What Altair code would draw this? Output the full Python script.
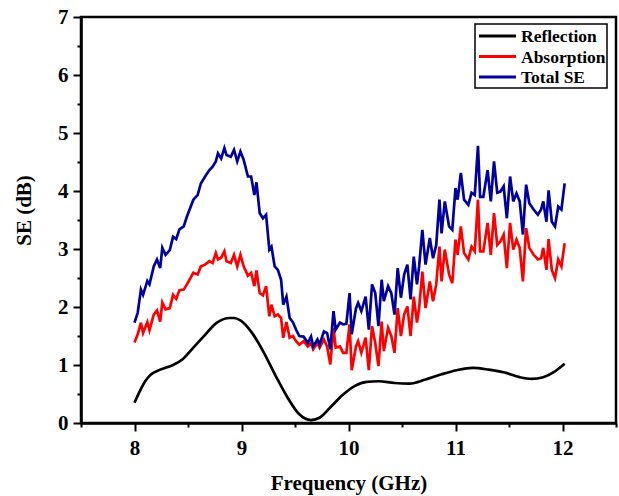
import altair as alt
import pandas as pd

# Frequency points (GHz) shared by the Absorption and Total SE curves
freq = [8.00, 8.03, 8.06, 8.08, 8.12, 8.14, 8.18, 8.21, 8.24, 8.26,
        8.29, 8.33, 8.36, 8.39, 8.42, 8.46, 8.49, 8.55, 8.59, 8.62,
        8.66, 8.70, 8.73, 8.76, 8.78, 8.81, 8.84, 8.86, 8.90, 8.93,
        8.96, 8.99, 9.02, 9.06, 9.09, 9.12, 9.14, 9.17, 9.20, 9.23,
        9.26, 9.28, 9.31, 9.34, 9.37, 9.39, 9.42, 9.45, 9.48, 9.51,
        9.54, 9.58, 9.62, 9.65, 9.67, 9.71, 9.73, 9.77, 9.80, 9.83,
        9.86, 9.88, 9.92, 9.95, 9.98, 10.01, 10.03, 10.07, 10.09, 10.12,
        10.16, 10.19, 10.22, 10.25, 10.28, 10.31, 10.33, 10.37, 10.40, 10.43,
        10.46, 10.49, 10.52, 10.55, 10.58, 10.61, 10.64, 10.66, 10.69, 10.72,
        10.76, 10.79, 10.82, 10.85, 10.87, 10.90, 10.94, 10.97, 11.00, 11.02,
        11.05, 11.08, 11.12, 11.15, 11.18, 11.21, 11.23, 11.26, 11.30, 11.33,
        11.36, 11.39, 11.42, 11.45, 11.48, 11.51, 11.54, 11.57, 11.60, 11.63,
        11.66, 11.69, 11.73, 11.77, 11.80, 11.82, 11.85, 11.87, 11.90, 11.93,
        11.96, 11.99, 12.02]

total_se = [1.73, 1.90, 2.30, 2.21, 2.45, 2.39, 2.70, 2.82, 2.67, 3.02,
            2.90, 2.98, 3.21, 3.17, 3.34, 3.39, 3.56, 3.85, 3.93, 4.13,
            4.25, 4.36, 4.42, 4.51, 4.65, 4.56, 4.74, 4.62, 4.59, 4.71,
            4.51, 4.68, 4.54, 4.25, 4.25, 3.93, 4.15, 3.62, 3.53, 3.59,
            2.99, 3.04, 2.70, 2.64, 2.47, 2.04, 2.18, 1.81, 1.74, 1.61,
            1.50, 1.49, 1.38, 1.49, 1.32, 1.44, 1.35, 1.58, 1.55, 1.27,
            1.93, 1.61, 1.73, 1.70, 1.71, 2.24, 1.53, 1.98, 2.07, 1.93,
            2.18, 1.61, 2.39, 2.24, 1.67, 2.47, 2.10, 2.36, 2.24, 1.87,
            2.67, 2.16, 2.56, 2.73, 2.13, 2.87, 2.39, 2.70, 3.33, 2.73,
            3.19, 2.84, 3.07, 3.85, 3.27, 3.82, 3.39, 3.33, 4.05, 3.85,
            4.31, 3.85, 3.76, 3.97, 3.93, 4.78, 3.90, 3.90, 4.36, 3.82,
            4.51, 3.97, 3.99, 4.08, 3.53, 4.25, 3.82, 3.96, 3.82, 3.25,
            4.11, 3.79, 3.68, 3.59, 3.68, 3.82, 3.47, 4.01, 3.47, 3.39,
            3.73, 3.68, 4.13]

absorption = [1.39, 1.53, 1.73, 1.55, 1.74, 1.60, 1.87, 1.94, 1.75, 2.08,
              1.96, 1.98, 2.21, 2.14, 2.29, 2.30, 2.39, 2.59, 2.56, 2.70,
              2.73, 2.79, 2.76, 2.93, 2.82, 2.85, 2.96, 2.79, 2.76, 2.90,
              2.70, 2.90, 2.70, 2.54, 2.59, 2.36, 2.63, 2.24, 2.20, 2.36,
              1.84, 2.04, 1.84, 1.87, 1.81, 1.47, 1.74, 1.47, 1.50, 1.41,
              1.35, 1.41, 1.32, 1.38, 1.27, 1.38, 1.30, 1.44, 1.32, 1.01,
              1.64, 1.30, 1.32, 1.21, 1.21, 1.70, 0.91, 1.32, 1.41, 1.21,
              1.47, 0.91, 1.67, 1.38, 0.98, 1.75, 1.24, 1.64, 1.50, 1.21,
              1.98, 1.50, 1.87, 2.01, 1.50, 2.18, 1.73, 1.98, 2.61, 1.98,
              2.44, 2.10, 2.39, 3.04, 2.44, 2.99, 2.56, 2.41, 3.16, 2.90,
              3.39, 2.93, 2.82, 3.04, 2.96, 3.85, 2.96, 2.96, 3.45, 2.90,
              3.62, 3.07, 3.13, 3.25, 2.67, 3.45, 2.99, 3.16, 3.02, 2.44,
              3.36, 3.02, 2.90, 2.82, 2.84, 3.02, 2.64, 3.17, 2.64, 2.50,
              2.82, 2.70, 3.10]

# Reflection curve (smooth)
ref_freq = [8.00, 8.05, 8.10, 8.15, 8.24, 8.36, 8.45, 8.55, 8.64, 8.77,
            8.89, 8.93, 8.99, 9.10, 9.21, 9.32, 9.43, 9.54, 9.65, 9.73,
            9.84, 9.95, 10.06, 10.17, 10.28, 10.43, 10.57, 10.72, 10.87, 11.01,
            11.16, 11.31, 11.46, 11.60, 11.71, 11.82, 11.93, 12.02]
reflection = [0.35, 0.55, 0.72, 0.83, 0.92, 1.00, 1.10, 1.30, 1.48, 1.73,
              1.81, 1.81, 1.77, 1.55, 1.21, 0.81, 0.44, 0.15, 0.05, 0.09,
              0.29, 0.49, 0.64, 0.71, 0.72, 0.69, 0.68, 0.75, 0.84, 0.91,
              0.95, 0.92, 0.87, 0.79, 0.76, 0.79, 0.89, 1.02]

series_names = ["Reflection", "Absorption", "Total SE"]
series_colors = ["#000000", "#ff0000", "#00009e"]

x_ticks = [7.5, 8, 8.5, 9, 9.5, 10, 10.5, 11, 11.5, 12, 12.5]
y_ticks = [0, 0.5, 1, 1.5, 2, 2.5, 3, 3.5, 4, 4.5, 5, 5.5, 6, 6.5, 7]

assert len(freq) == len(total_se) == len(absorption)
assert len(ref_freq) == len(reflection)

df_ref = pd.DataFrame({"f": ref_freq, "v": reflection, "s": "Reflection"})
df_abs = pd.DataFrame({"f": freq, "v": absorption, "s": "Absorption"})
df_tot = pd.DataFrame({"f": freq, "v": total_se, "s": "Total SE"})

FONT = "Liberation Serif"
minor_test = "datum.value % 1 !== 0"
label_expr = "datum.value % 1 ? '' : '' + datum.value"

axis_common = dict(
    labelExpr=label_expr,
    tickSize={"condition": {"test": minor_test, "value": 4}, "value": 8},
    grid=False, domainColor="black", domainWidth=2.5, tickColor="black",
    tickWidth=2, labelFont=FONT, labelFontWeight="bold", labelFontSize=21,
    labelColor="black", titleFont=FONT, titleFontWeight="bold", titleFontSize=21,
    titleColor="black",
)

x_enc = alt.X("f:Q", scale=alt.Scale(domain=[7.5, 12.5], nice=False, zero=False),
              axis=alt.Axis(values=x_ticks, title="Frequency (GHz)",
                            labelPadding=6, titlePadding=14, **axis_common))
y_enc = alt.Y("v:Q", scale=alt.Scale(domain=[0, 7], nice=False),
              axis=alt.Axis(values=y_ticks, title="SE (dB)", titleY=193,
                            labelPadding=5, titlePadding=23, **axis_common))
color_enc = alt.Color("s:N", scale=alt.Scale(domain=series_names, range=series_colors), legend=None)

def line(df, smooth=False):
    kw = {"strokeWidth": 2.7}
    if smooth:
        kw["interpolate"] = "monotone"
    return alt.Chart(df).mark_line(**kw).encode(x=x_enc, y=y_enc, color=color_enc)

layers = [line(df_ref, True), line(df_abs), line(df_tot)]

# Legend box (drawn manually to match the original's long line samples)
box = alt.Chart(alt.InlineData(values=[{"k": 1}])).mark_rect(
    fill="white", stroke="black", strokeWidth=1.5
).encode(x=alt.value(394), x2=alt.value(526), y=alt.value(7), y2=alt.value(71))
layers.append(box)
for i, (name, col) in enumerate(zip(series_names, series_colors)):
    yy = 19 + i * 20.5
    d = alt.InlineData(values=[{"label": name}])
    layers.append(alt.Chart(d).mark_rule(color=col, strokeWidth=3).encode(
        x=alt.value(398), x2=alt.value(435), y=alt.value(yy)))
    layers.append(alt.Chart(d).mark_text(
        align="left", baseline="middle", font=FONT, fontWeight="bold",
        fontSize=17.5, color="black").encode(
        x=alt.value(440), y=alt.value(yy + 1), text="label:N"))

chart = alt.layer(*layers).properties(
    width=535, height=406,
    autosize=alt.AutoSizeParams(type="none"),
    padding={"left": 81, "top": 17, "right": 3, "bottom": 73},
).configure_view(
    stroke="black", strokeWidth=2.5
)

chart.save("out.html", embed_options={"renderer": "svg", "actions": False})
